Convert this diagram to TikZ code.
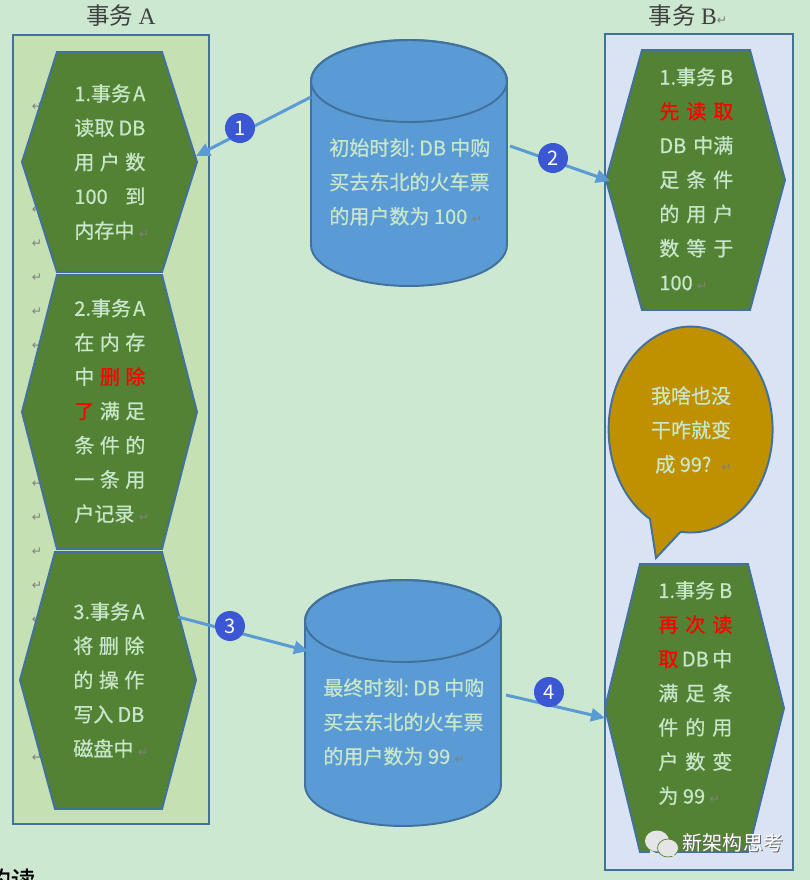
\documentclass[tikz,border=0pt]{standalone}
\usepackage{fontspec}
\usetikzlibrary{arrows.meta}
\setmainfont[FakeBold=0.7]{Noto Sans CJK SC}
\newfontfamily\symfont{DejaVu Sans}
\newfontfamily\titlefont{Noto Sans CJK SC}
\newfontfamily\titlelatin{Liberation Serif}
\definecolor{pagebg}{HTML}{CDE8D0}
\definecolor{boxA}{HTML}{C5E0B3}
\definecolor{boxB}{HTML}{DAE3F3}
\definecolor{edgeblue}{HTML}{41719C}
\definecolor{hexgreen}{HTML}{548235}
\definecolor{cylblue}{HTML}{5B9BD5}
\definecolor{bubblegold}{HTML}{BF9000}
\definecolor{labelgreen}{HTML}{C8E6C9}
\definecolor{badgeblue}{HTML}{3B57D3}
\newcommand{\hl}[1]{\makebox[1.42cm][s]{#1}}
\newcommand{\hr}[1]{\makebox[1.48cm][s]{#1}}
\newcommand{\cl}[1]{\makebox[3.22cm][s]{#1}}
\newcommand{\rd}[1]{\textcolor{red}{#1}}
\newcommand{\retmark}{{\symfont\fontsize{7}{7}\selectfont\textcolor{gray}{↵}}}
\tikzset{
  shapeline/.style = {draw = edgeblue, line width = 1.1pt},
  hexshape/.style = {shapeline, fill = hexgreen},
  cylshape/.style = {shapeline, fill = cylblue},
  bodytext/.style = {text = labelgreen, align = left, anchor = west, inner sep = 0pt,
    font = \fontsize{11.4}{19.5}\selectfont},
  titletext/.style = {text = black!75, font = \titlefont\fontsize{13.4}{16}\selectfont},
  link/.style = {-{Triangle[length = 0.28cm, width = 0.26cm]}, draw = cylblue, line width = 1.7pt},
  badge/.style = {circle, fill = badgeblue, text = white, minimum size = 0.6cm, inner sep = 0pt,
    font = \titlefont\fontsize{11.4}{12}\selectfont}
}
\begin{document}
\begin{tikzpicture}[x = 0.02cm, y = -0.02cm]
\useasboundingbox (0,0) rectangle (810,880);
\clip (0,0) rectangle (810,880);
\fill[pagebg] (0,0) rectangle (810,880);
% the two columns
\filldraw[shapeline, fill = boxA] (13,35) rectangle (209,824);
\filldraw[shapeline, fill = boxB] (605,34) rectangle (793,870);
\node[titletext] (titleA) at (121,16) {事务 {\titlelatin A}};
\node[titletext] (titleB) at (688,16) {事务 {\titlelatin B}\retmark};
\foreach \y in {107,210,244,278,312,346,484,518,552,586,620,758}
  \node (mark\y) at (37,\y) {\retmark};
% left column
\filldraw[hexshape] (57,52) -- (162,52) -- (197,162) -- (162,272) -- (57,272) -- (22,162) -- cycle;
\filldraw[hexshape] (57,275) -- (162,275) -- (197,412) -- (162,549) -- (57,549) -- (22,412) -- cycle;
\filldraw[hexshape] (55,552) -- (162,552) -- (196,680) -- (162,809) -- (55,809) -- (20,680) -- cycle;
\node[bodytext] (stepAone) at (74,162) {\hl{1.事务\hfil A}\\\hl{读取\hfil DB}\\\hl{用\hfil 户\hfil 数}\\\hl{100\hfil 到}\\内存中 \retmark};
\node[bodytext] (stepAtwo) at (74,411) {\hl{2.事务\hfil A}\\\hl{在\hfil 内\hfil 存}\\\hl{中\hfil \rd{删}\hfil \rd{除}}\\\hl{\rd{了}\hfil 满\hfil 足}\\\hl{条\hfil 件\hfil 的}\\\hl{一\hfil 条\hfil 用}\\户记录 \retmark};
\node[bodytext] (stepAthree) at (73,680) {\hl{3.事务\hfil A}\\\hl{将\hfil 删\hfil 除}\\\hl{的\hfil 操\hfil 作}\\\hl{写入\hfil DB}\\磁盘中 \retmark};
% right column
\filldraw[hexshape] (642,50) -- (750,50) -- (785,180) -- (750,310) -- (642,310) -- (606,180) -- cycle;
\filldraw[hexshape] (640,564) -- (748,564) -- (784,708) -- (748,852) -- (640,852) -- (605,708) -- cycle;
\node[bodytext] (stepBone) at (659,179) {\hr{1.事务\hfil B}\\\hr{\rd{先}\hfil \rd{读}\hfil \rd{取}}\\\hr{DB\hfil 中满}\\\hr{足\hfil 条\hfil 件}\\\hr{的\hfil 用\hfil 户}\\\hr{数\hfil 等\hfil 于}\\100 \retmark};
\node[bodytext] (stepBtwo) at (658,693) {\hr{1.事务\hfil B}\\\hr{\rd{再}\hfil \rd{次}\hfil \rd{读}}\\\hr{\rd{取}\hfil DB\hfil 中}\\\hr{满\hfil 足\hfil 条}\\\hr{件\hfil 的\hfil 用}\\\hr{户\hfil 数\hfil 变}\\为 99 \retmark};
\filldraw[shapeline, fill = bubblegold] (650,519) arc [start angle = 240.3, end angle = -97, x radius = 1.64cm, y radius = 2.06cm] -- (656,558) -- cycle;
\node[bodytext, align = center, anchor = center] (bubbletext) at (691,430) {我啥也没\\干咋就变\\\hspace{0.1cm}成 99?\hspace{0.2cm}\retmark};
% the two databases
\filldraw[cylshape] (311,81) -- (311,245) arc [start angle = 180, end angle = 360, x radius = 1.96cm, y radius = 0.82cm] -- (507,81) arc [start angle = 0, end angle = 180, x radius = 1.96cm, y radius = 0.82cm] -- cycle;
\draw[shapeline] (409,81) ellipse [x radius = 1.96cm, y radius = 0.82cm];
\node[bodytext] (dbstart) at (329,182) {\cl{初始时刻:\hfil DB\hfil 中购}\\\cl{买去东北的火车票}\\的用户数为 100 \retmark};
\filldraw[cylshape] (305,621) -- (305,785) arc [start angle = 180, end angle = 360, x radius = 1.96cm, y radius = 0.82cm] -- (501,621) arc [start angle = 0, end angle = 180, x radius = 1.96cm, y radius = 0.82cm] -- cycle;
\draw[shapeline] (403,621) ellipse [x radius = 1.96cm, y radius = 0.82cm];
\node[bodytext] (dbend) at (323,722) {\cl{最终时刻:\hfil DB\hfil 中购}\\\cl{买去东北的火车票}\\的用户数为 99 \retmark};
% arrows
\coordinate (readAfrom) at (311,97);
\coordinate (readAto) at (196,156);
\coordinate (readBfrom) at (510,146);
\coordinate (readBto) at (610,181);
\coordinate (writeAfrom) at (178,617);
\coordinate (writeAto) at (308,651);
\coordinate (rereadfrom) at (506,695);
\coordinate (rereadto) at (605,718);
\draw[link] (readAfrom) -- (readAto);
\draw[link] (readBfrom) -- (readBto);
\draw[link] (writeAfrom) -- (writeAto);
\draw[link] (rereadfrom) -- (rereadto);
\node[badge] (badgeone) at (240,128) {1};
\node[badge] (badgetwo) at (553,158) {2};
\node[badge] (badgethree) at (230,626) {3};
\node[badge] (badgefour) at (549,692) {4};
% watermark
\fill[white!90!black] (657,841) ellipse [x radius = 0.24cm, y radius = 0.21cm];
\fill[white!90!black] (650,850) -- (650,859) -- (658,854) -- cycle;
\filldraw[draw = hexgreen, fill = white!90!black, line width = 0.4pt] (668,848) ellipse [x radius = 0.21cm, y radius = 0.18cm];
\fill[white!90!black] (672,853) -- (676,857) -- (668,855) -- cycle;
\node[text = black!60, inner sep = 0pt, font = \titlefont\fontsize{11.4}{12}\selectfont] (wmarkshadow) at (734,844) {新架构思考};
\node[text = white, inner sep = 0pt, font = \titlefont\fontsize{11.4}{12}\selectfont] (wmark) at (733,843) {新架构思考};
\node[text = black, inner sep = 0pt, font = \fontsize{14}{16}\selectfont] (cutoff) at (11,880) {的读};
\end{tikzpicture}
\end{document}
